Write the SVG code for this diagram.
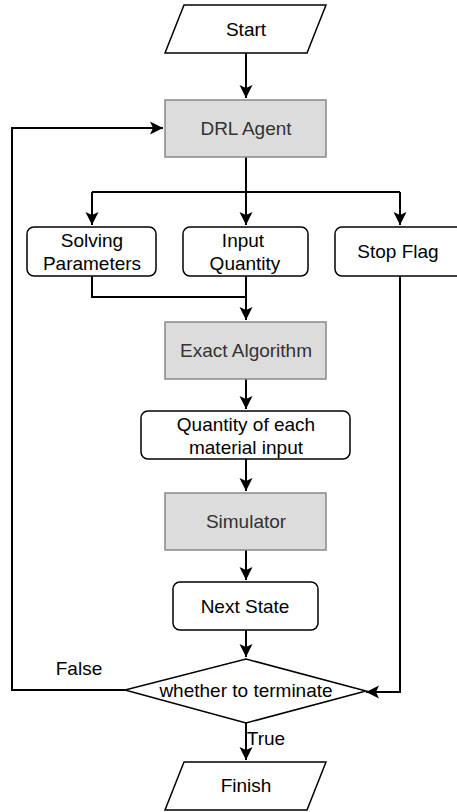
<svg xmlns="http://www.w3.org/2000/svg" width="457" height="812" viewBox="0 0 457 812">
<style>
text{font-family:"Liberation Sans",Arial,sans-serif;font-size:19px;fill:#000;text-anchor:middle;dominant-baseline:central}
.box{fill:#fff;stroke:#000;stroke-width:1.5}
.grey{fill:#dcdcdc;stroke:#888;stroke-width:1.5}
.grey+text,.gt{fill:#333}
.ln{fill:none;stroke:#000;stroke-width:2}
</style>
<defs>
<marker id="arr" markerUnits="userSpaceOnUse" markerWidth="16" markerHeight="16" viewBox="0 0 16 16" refX="14" refY="8" orient="auto">
<path d="M1,1.5 L14,8 L1,14.5 L4,8 Z" fill="#000"/>
</marker>
</defs>
<g id="connectors">
<path class="ln" d="M246,53 V98" marker-end="url(#arr)"/>
<path class="ln" d="M246,157 V192"/>
<path class="ln" d="M92,192 H400"/>
<path class="ln" d="M92,192 V225" marker-end="url(#arr)"/>
<path class="ln" d="M246,192 V225" marker-end="url(#arr)"/>
<path class="ln" d="M400,192 V225" marker-end="url(#arr)"/>
<path class="ln" d="M92,276 V297 H246"/>
<path class="ln" d="M246,276 V320" marker-end="url(#arr)"/>
<path class="ln" d="M246,379 V409" marker-end="url(#arr)"/>
<path class="ln" d="M246,459 V491" marker-end="url(#arr)"/>
<path class="ln" d="M246,550 V580" marker-end="url(#arr)"/>
<path class="ln" d="M246,630 V657" marker-end="url(#arr)"/>
<path class="ln" d="M125,690 H12 V128 H163" marker-end="url(#arr)"/>
<path class="ln" d="M400,276 V692 H366" marker-end="url(#arr)"/>
<path class="ln" d="M246,723 V760" marker-end="url(#arr)"/>
<text x="79" y="668">False</text>
<text x="266" y="738">True</text>
</g>
<g id="start">
<polygon class="box" points="184,5 326,5 307,53 165,53"/>
<text x="246" y="29">Start</text>
</g>
<g id="drl-agent">
<rect class="grey" x="165" y="100" width="161" height="57"/>
<text class="gt" x="246" y="128.5">DRL Agent</text>
</g>
<g id="solving-parameters">
<rect class="box" x="27" y="227" width="129" height="49" rx="7"/>
<text x="92" y="240">Solving</text>
<text x="92" y="263">Parameters</text>
</g>
<g id="input-quantity">
<rect class="box" x="183" y="227" width="125" height="49" rx="7"/>
<text x="243" y="240">Input</text>
<text x="245" y="263">Quantity</text>
</g>
<g id="stop-flag">
<rect class="box" x="335" y="227" width="130" height="49" rx="7"/>
<text x="398" y="251.5">Stop Flag</text>
</g>
<g id="exact-algorithm">
<rect class="grey" x="165" y="322" width="161" height="57"/>
<text class="gt" x="246" y="350.5">Exact Algorithm</text>
</g>
<g id="quantity-material">
<rect class="box" x="141" y="411" width="209" height="48" rx="7"/>
<text x="246" y="424">Quantity of each</text>
<text x="246" y="447">material input</text>
</g>
<g id="simulator">
<rect class="grey" x="165" y="493" width="161" height="57"/>
<text class="gt" x="246" y="521.5">Simulator</text>
</g>
<g id="next-state">
<rect class="box" x="173" y="582" width="145" height="48" rx="7"/>
<text x="245" y="606">Next State</text>
</g>
<g id="terminate">
<polygon class="box" points="246,659 366,691 246,723 125,690"/>
<text x="246" y="690">whether to terminate</text>
</g>
<g id="finish">
<polygon class="box" points="184,762 326,762 307,810 165,810"/>
<text x="246" y="785">Finish</text>
</g>
</svg>
